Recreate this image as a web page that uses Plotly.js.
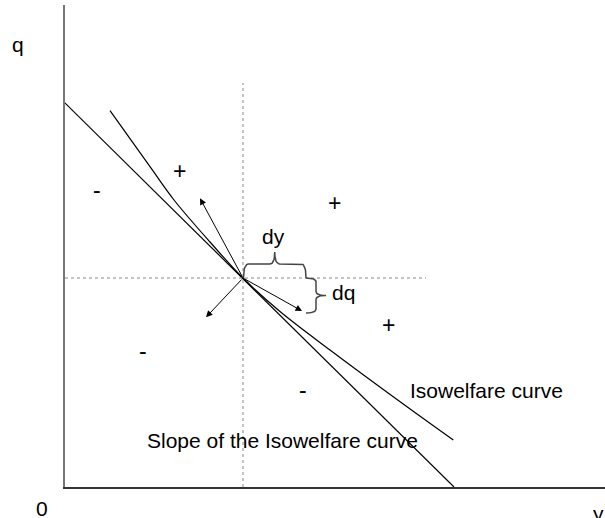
<!DOCTYPE html>
<html>
<head>
<meta charset="utf-8">
<script src="https://cdn.plot.ly/plotly-3.0.1.min.js"></script>
<style>html,body{margin:0;padding:0;background:#fff;}#chart{width:605px;height:518px;}</style>
</head>
<body>
<div id="chart"></div>
<script>
// Tangent (slope) line: endpoints
var tangentX = [-0.07, 38.9];
var tangentY = [38.47, 0];
// Isowelfare curve (convex)
var curveX = [4.5, 8.5, 10.9, 14.5, 17.8, 21.5, 26.5, 33.27, 38.83];
var curveY = [37.63, 32.03, 28.7, 24.5, 20.9, 17.55, 13.7, 8.7, 4.7];
// Point of tangency
var tanPoint = [17.8, 20.9];
// Reference dotted lines
var vDotTop = 40.4;
var hDotRight = 36.1;
// Arrow heads (arrows start at the point of tangency)
var arrowHeadX = [13.5, 14.1, 23.7];
var arrowHeadY = [28.87, 16.97, 17.6];
// dy and dq braces
var dyEnd = 24.1;   // x where dy brace ends
var dqEnd = 17.5;   // y where dq brace ends
// Signs
var signText = ['+', '+', '+', '-', '-', '-'];
var signX = [11.43, 26.93, 32.33, 3.17, 7.83, 23.8];
var signY = [31.63, 28.37, 16.2, 29.7, 13.63, 9.7];
// Labels inside the plot
var labelText = ['dy', 'dq', 'Isowelfare curve', 'Slope of the Isowelfare curve'];
var labelX = [20.8, 27.85, 42.1, 21.7];
var labelY = [25.1, 19.5, 9.7, 4.7];
// Axis-end labels (outside the plot area)
var axisLabelText = ['q', '0', 'y'];
var axisLabelX = [-4.75, -2.3, 53.3];
var axisLabelY = [44.3, -2.1, -2.6];

var XMAX = 54, YMAX = 48.2;
var FONT = 'Liberation Sans, Arial, sans-serif';
var traces = [];
traces.push({x: tangentX, y: tangentY, mode: 'lines', line: {color: '#000', width: 1.2}, hoverinfo: 'skip'});
traces.push({x: curveX, y: curveY, mode: 'lines', line: {color: '#000', width: 1.2, shape: 'spline', smoothing: 1}, hoverinfo: 'skip'});
traces.push({x: [tanPoint[0], tanPoint[0]], y: [0, vDotTop], mode: 'lines', line: {color: '#888', width: 1, dash: 'dot'}, hoverinfo: 'skip'});
traces.push({x: [0, hDotRight], y: [tanPoint[1], tanPoint[1]], mode: 'lines', line: {color: '#888', width: 1, dash: 'dot'}, hoverinfo: 'skip'});

function quad(xs, ys, ax, ay, cx, cy, bx, by) {
  for (var t = 0; t <= 1.0001; t += 0.1) {
    xs.push((1-t)*(1-t)*ax + 2*(1-t)*t*cx + t*t*bx);
    ys.push((1-t)*(1-t)*ay + 2*(1-t)*t*cy + t*t*by);
  }
}
function hBrace(x0, x1, y0, h1, h2) {
  var xm = (x0 + x1) / 2, r = 0.5, xs = [], ys = [];
  quad(xs, ys, x0, y0, x0, y0 + h1, x0 + r, y0 + h1);
  quad(xs, ys, xm - r, y0 + h1, xm, y0 + h1, xm, y0 + h1 + h2);
  quad(xs, ys, xm, y0 + h1 + h2, xm, y0 + h1, xm + r, y0 + h1);
  quad(xs, ys, x1 - r, y0 + h1, x1, y0 + h1, x1, y0);
  return {x: xs, y: ys};
}
function vBrace(y0, y1, x0, w1, w2) {
  var ym = (y0 + y1) / 2, r = 0.4, xs = [], ys = [];
  quad(xs, ys, x0, y0, x0 + w1, y0, x0 + w1, y0 - r);
  quad(xs, ys, x0 + w1, ym + r, x0 + w1, ym, x0 + w1 + w2, ym);
  quad(xs, ys, x0 + w1 + w2, ym, x0 + w1, ym, x0 + w1, ym - r);
  quad(xs, ys, x0 + w1, y1 + r, x0 + w1, y1, x0, y1);
  return {x: xs, y: ys};
}
var b1 = hBrace(tanPoint[0] + 0.05, dyEnd, tanPoint[1], 1.4, 1.2);
var b2 = vBrace(tanPoint[1], dqEnd - 0.1, dyEnd, 1.0, 1.0);
traces.push({x: b1.x, y: b1.y, mode: 'lines', line: {color: '#444', width: 1.5}, hoverinfo: 'skip'});
traces.push({x: b2.x, y: b2.y, mode: 'lines', line: {color: '#444', width: 1.5}, hoverinfo: 'skip'});

var annotations = [];
for (var i = 0; i < arrowHeadX.length; i++) {
  annotations.push({x: arrowHeadX[i], y: arrowHeadY[i], xref: 'x', yref: 'y',
    ax: tanPoint[0], ay: tanPoint[1], axref: 'x', ayref: 'y', text: '', showarrow: true,
    arrowhead: 2, arrowsize: 1.3, arrowwidth: 1, arrowcolor: '#000', standoff: 0, startstandoff: 0});
}
for (var j = 0; j < signText.length; j++) {
  annotations.push({x: signX[j], y: signY[j], xref: 'x', yref: 'y', text: signText[j], showarrow: false,
    font: {family: FONT, size: 23, color: '#000'}, xanchor: 'center', yanchor: 'middle'});
}
for (var k = 0; k < labelText.length; k++) {
  annotations.push({x: labelX[k], y: labelY[k], xref: 'x', yref: 'y', text: labelText[k], showarrow: false,
    font: {family: FONT, size: 21, color: '#000'}, xanchor: 'center', yanchor: 'middle'});
}
for (var m = 0; m < axisLabelText.length; m++) {
  annotations.push({x: axisLabelX[m] / XMAX, y: axisLabelY[m] / YMAX, xref: 'paper', yref: 'paper',
    text: axisLabelText[m], showarrow: false,
    font: {family: FONT, size: 21, color: '#000'}, xanchor: 'center', yanchor: 'middle'});
}

var layout = {
  width: 605, height: 518,
  margin: {l: 65, r: 0, t: 5, b: 31, pad: 0},
  paper_bgcolor: '#fff', plot_bgcolor: '#fff',
  showlegend: false,
  xaxis: {range: [0, XMAX], showgrid: false, zeroline: false, showticklabels: false, ticks: '',
    showline: true, linecolor: '#333', linewidth: 2, fixedrange: true},
  yaxis: {range: [0, YMAX], showgrid: false, zeroline: false, showticklabels: false, ticks: '',
    showline: true, linecolor: '#777', linewidth: 2, fixedrange: true},
  annotations: annotations
};
Plotly.newPlot('chart', traces, layout, {displayModeBar: false, staticPlot: true});
</script>
</body>
</html>
